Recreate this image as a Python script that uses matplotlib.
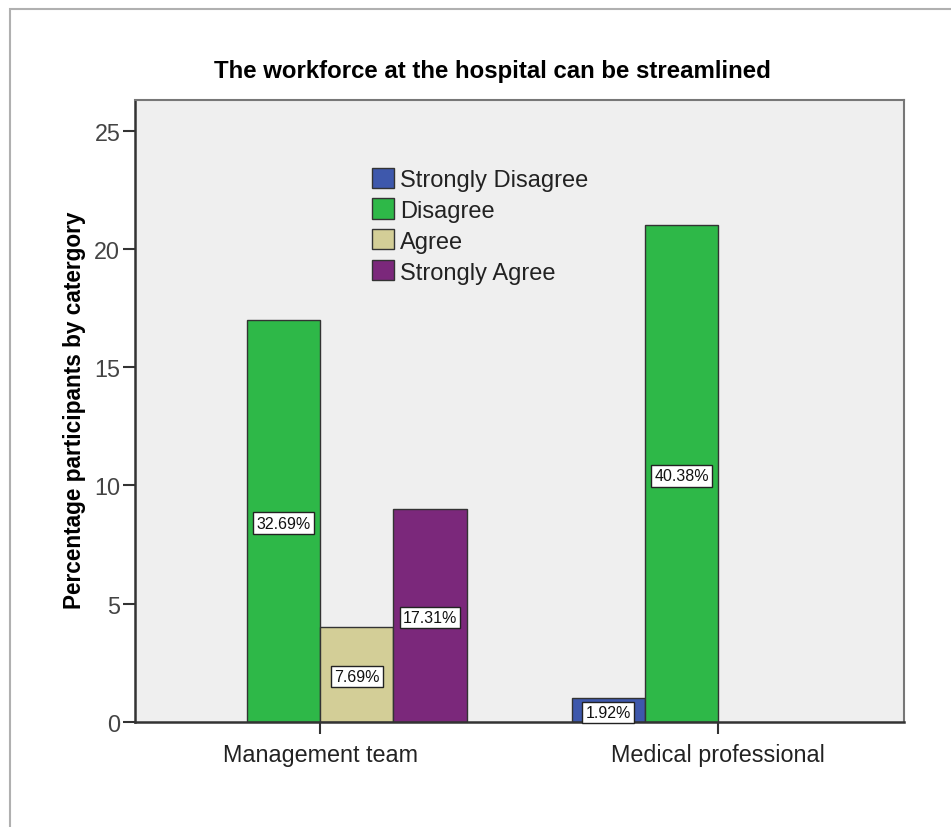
import matplotlib
matplotlib.use("Agg")
import matplotlib.pyplot as plt
import numpy as np
from matplotlib.patches import Rectangle, Patch

plt.rcParams['font.family'] = ['Liberation Sans', 'DejaVu Sans']

categories = ["Management team", "Medical professional"]
series_names = ["Strongly Disagree", "Disagree", "Agree", "Strongly Agree"]
counts = {
    "Strongly Disagree": [0, 1],
    "Disagree": [17, 21],
    "Agree": [4, 0],
    "Strongly Agree": [9, 0],
}
pct_labels = {
    "Strongly Disagree": [None, "1.92%"],
    "Disagree": ["32.69%", "40.38%"],
    "Agree": ["7.69%", None],
    "Strongly Agree": ["17.31%", None],
}
colors = ["#3e58ac", "#2eb848", "#d3ce97", "#7b287b"]
yticks = [0, 5, 10, 15, 20, 25]
title = "The workforce at the hospital can be streamlined"
ylabel = "Percentage participants by catergory"

fig = plt.figure(figsize=(9.51, 8.28), dpi=100)
# outer frame
fig.add_artist(Rectangle((9.5/951, -0.1), 2, 1.1 - 9.5/828, transform=fig.transFigure,
                         fill=False, edgecolor="#b0b0b0", linewidth=1.5))

ax = fig.add_axes([135/951, 1 - 722.7/828, (904 - 135)/951, (722.7 - 101)/828])
ax.set_facecolor("#efefef")

x = np.arange(len(categories))
w = 0.184
offsets = [-1.5, -0.5, 0.5, 1.5]
for name, c, off in zip(series_names, colors, offsets):
    vals = counts[name]
    for xi, v, lab in zip(x, vals, pct_labels[name]):
        if v <= 0:
            continue
        ax.bar(xi + off * w, v, width=w, color=c, edgecolor="#333333", linewidth=1.0, zorder=2)
        if lab:
            ax.text(xi + off * w, v / 2 - 0.1, lab, ha="center", va="center", fontsize=11.5,
                    color="#111111", zorder=3,
                    bbox=dict(boxstyle="square,pad=0.2", facecolor="white", edgecolor="#222222", linewidth=1.0))

ax.set_xlim(-0.465, 1.467)
ax.set_ylim(0, 26.3)
ax.set_xticks(x)
ax.set_xticklabels(categories, fontsize=16.8, color="#222222")
ax.set_yticks(yticks)
ax.set_yticklabels([str(t) for t in yticks], fontsize=16.8, color="#444444")
ax.tick_params(axis="y", length=8.6, width=1.5, color="#333333", pad=2)
ax.tick_params(axis="x", length=8.6, width=1.5, color="#333333", pad=7)
for s in ["left", "bottom"]:
    ax.spines[s].set_color("#333333")
    ax.spines[s].set_linewidth(1.8)
for s in ["top", "right"]:
    ax.spines[s].set_color("#777777")
    ax.spines[s].set_linewidth(1.5)

ax.set_ylabel(ylabel, fontsize=16.3, fontweight="bold")
ax.yaxis.set_label_coords((86 - 135) / 769, 0.5 - ((410 - 411.85) / 621.7))
fig.text(492.5 / 951, 1 - 71.5/828, title, ha="center", va="center",
         fontsize=17.3, fontweight="bold")

handles = [Patch(facecolor=c, edgecolor="#333333", label=n) for n, c in zip(series_names, colors)]
leg = ax.legend(handles=handles, loc="upper left", bbox_to_anchor=((372 - 135) / 769, (722.7 - 168.5) / 621.7),
                frameon=False, fontsize=17, handlelength=0.93, handleheight=0.93,
                handletextpad=0.25, labelspacing=0.33, borderaxespad=0, borderpad=0)
for t in leg.get_texts():
    t.set_color("#222222")

fig.savefig("out.png", dpi=100)
